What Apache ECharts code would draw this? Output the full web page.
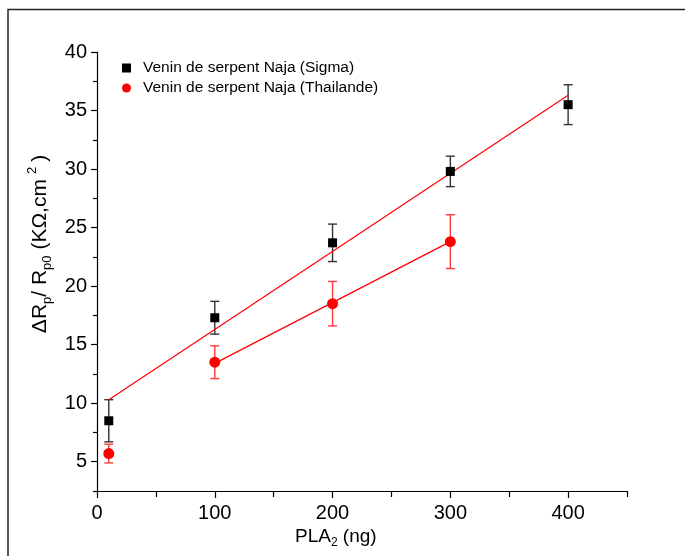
<!DOCTYPE html>
<html>
<head>
<meta charset="utf-8">
<script src="https://cdn.jsdelivr.net/npm/echarts@6/dist/echarts.min.js"></script>
<style>
  html, body { margin: 0; padding: 0; background: #fff; }
  #chart { width: 685px; height: 556px; }
</style>
</head>
<body>
<div id="chart"></div>
<script>
// PLA2 amount (ng) for each measurement
const sigmaX = [10, 100, 200, 300, 400];
const sigmaY = [8.5, 17.3, 23.7, 29.8, 35.5];
const sigmaErr = [1.8, 1.4, 1.6, 1.3, 1.7];

const thaiX = [10, 100, 200, 300];
const thaiY = [5.7, 13.5, 18.5, 23.8];
const thaiErr = [0.8, 1.4, 1.9, 2.3];

// Linear fit segments (start and end of each fitted line)
const sigmaFit = [[10, 10.3], [400, 36.3]];
const thaiFit = [[100, 13.4], [300, 23.8]];

// Tick positions
const xMajorTicks = [0, 100, 200, 300, 400];
const xMinorTicks = [50, 150, 250, 350, 450];
const yMajorTicks = [5, 10, 15, 20, 25, 30, 35, 40];
const yMinorTicks = [2.5, 7.5, 12.5, 17.5, 22.5, 27.5, 32.5, 37.5];

const seriesNames = ['Venin de serpent Naja (Sigma)', 'Venin de serpent Naja (Thailande)'];

const FONT = '"Liberation Sans", Arial, sans-serif';

function pairs(xs, ys) { return xs.map((x, i) => [x, ys[i]]); }
function errRows(xs, ys, es) { return xs.map((x, i) => [x, ys[i] - es[i], ys[i] + es[i]]); }

function errorBarRenderer(color) {
  return function (params, api) {
    const x = api.value(0);
    const lo = api.coord([x, api.value(1)]);
    const hi = api.coord([x, api.value(2)]);
    const cap = 4.5;
    const style = { stroke: color, lineWidth: 1.4 };
    return {
      type: 'group',
      children: [
        { type: 'line', shape: { x1: lo[0], y1: lo[1], x2: hi[0], y2: hi[1] }, style: style },
        { type: 'line', shape: { x1: lo[0] - cap, y1: lo[1], x2: lo[0] + cap, y2: lo[1] }, style: style },
        { type: 'line', shape: { x1: hi[0] - cap, y1: hi[1], x2: hi[0] + cap, y2: hi[1] }, style: style }
      ]
    };
  };
}

const chart = echarts.init(document.getElementById('chart'), null, { renderer: 'canvas' });

const axisLineStyle = { color: '#000', width: 1.2 };

chart.setOption({
  animation: false,
  backgroundColor: '#fff',
  grid: { left: 97, top: 52, width: 530, height: 439, containLabel: false },
  legend: {
    left: 117,
    top: 55,
    orient: 'vertical',
    itemWidth: 9,
    itemHeight: 9,
    itemGap: 4,
    data: [
      { name: seriesNames[0], icon: 'rect' },
      { name: seriesNames[1], icon: 'circle' }
    ],
    textStyle: { fontFamily: FONT, fontSize: 15.5, color: '#000', padding: [0, 0, 0, 7] }
  },
  xAxis: [
    {
      type: 'value', min: 0, max: 450,
      axisLine: { show: true, onZero: false, lineStyle: axisLineStyle },
      axisTick: { show: true, inside: false, length: 7, customValues: xMajorTicks, lineStyle: axisLineStyle },
      axisLabel: { show: true, customValues: xMajorTicks, margin: 12, fontFamily: FONT, fontSize: 20, color: '#000' },
      splitLine: { show: false }
    },
    {
      type: 'value', min: 0, max: 450, position: 'bottom',
      axisLine: { show: false },
      axisTick: { show: true, inside: false, length: 6, customValues: xMinorTicks, lineStyle: axisLineStyle },
      axisLabel: { show: false },
      splitLine: { show: false }
    }
  ],
  yAxis: [
    {
      type: 'value', min: 2.5, max: 40,
      axisLine: { show: true, onZero: false, lineStyle: axisLineStyle },
      axisTick: { show: true, inside: false, length: 6, customValues: yMajorTicks, lineStyle: axisLineStyle },
      axisLabel: { show: true, customValues: yMajorTicks, margin: 10, fontFamily: FONT, fontSize: 20, color: '#000' },
      splitLine: { show: false }
    },
    {
      type: 'value', min: 2.5, max: 40, position: 'left',
      axisLine: { show: false },
      axisTick: { show: true, inside: false, length: 4, customValues: yMinorTicks, lineStyle: axisLineStyle },
      axisLabel: { show: false },
      splitLine: { show: false }
    }
  ],
  series: [
    {
      type: 'custom', name: 'sigmaErr', renderItem: errorBarRenderer('#333'),
      data: errRows(sigmaX, sigmaY, sigmaErr), z: 2, silent: true,
      encode: { x: 0, y: [1, 2] }
    },
    {
      type: 'custom', name: 'thaiErr', renderItem: errorBarRenderer('#ff3b3b'),
      data: errRows(thaiX, thaiY, thaiErr), z: 2, silent: true,
      encode: { x: 0, y: [1, 2] }
    },
    {
      type: 'line', name: 'sigmaFit', data: sigmaFit, symbol: 'none', z: 3,
      lineStyle: { color: '#ff0000', width: 1.2 }
    },
    {
      type: 'line', name: 'thaiFit', data: thaiFit, symbol: 'none', z: 3,
      lineStyle: { color: '#ff0000', width: 1.2 }
    },
    {
      type: 'scatter', name: seriesNames[0], data: pairs(sigmaX, sigmaY),
      symbol: 'rect', symbolSize: 9, z: 4,
      itemStyle: { color: '#000', opacity: 1 }
    },
    {
      type: 'scatter', name: seriesNames[1], data: pairs(thaiX, thaiY),
      symbol: 'circle', symbolSize: 11, z: 4,
      itemStyle: { color: '#ff0000', opacity: 1 }
    }
  ],
  graphic: [
    // outer frame (top and left edges)
    {
      type: 'polyline', silent: true,
      shape: { points: [[8, 556], [8, 9.5], [685, 9.5]] },
      style: { stroke: '#222', lineWidth: 1.5, fill: null }
    },
    // x-axis title
    {
      type: 'text', left: 295, top: 527,
      style: {
        text: '{m|PLA}{s|2}{m| (ng)}',
        rich: {
          m: { fontFamily: FONT, fontSize: 19, color: '#000', lineHeight: 24 },
          s: { fontFamily: FONT, fontSize: 12, color: '#000', lineHeight: 10, verticalAlign: 'bottom' }
        }
      }
    },
    // y-axis title
    {
      type: 'text', x: 40, y: 244, rotation: Math.PI / 2,
      style: {
        text: '{m|ΔR}{s|p}{m|/ R}{s|p0}{m| (KΩ,cm}{u|2}{m|)}',
        align: 'center', verticalAlign: 'middle',
        rich: {
          m: { fontFamily: FONT, fontSize: 21, color: '#000', lineHeight: 28 },
          s: { fontFamily: FONT, fontSize: 13, color: '#000', lineHeight: 10, verticalAlign: 'bottom' },
          u: { fontFamily: FONT, fontSize: 13, color: '#000', lineHeight: 10, verticalAlign: 'top', padding: [0, 5, 0, 5] }
        }
      }
    }
  ]
});
</script>
</body>
</html>
